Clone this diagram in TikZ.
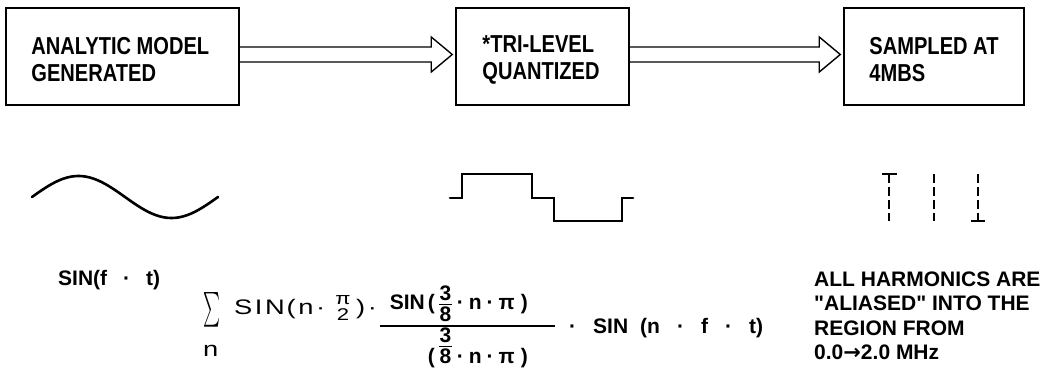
\documentclass[tikz,border=0pt]{standalone}
\usepackage{fontspec}
\setmainfont{Liberation Sans}
\newfontfamily\platefont{Liberation Sans}[FakeStretch=0.82]
\newfontfamily\thinfont{Liberation Sans}[FakeStretch=1.3,LetterSpace=12]
\newfontfamily\arrowfont{DejaVu Sans}
\usetikzlibrary{arrows,positioning,calc}

% 3 over 8, centred on the line / sitting on the line
\newcommand{\stackfrac}[2]{\ensuremath{\vcenter{\offinterlineskip
    \hbox to 0.62em{\hss#1\hss}\kern2.5pt\hrule height0.9pt\kern2.5pt
    \hbox to 0.62em{\hss#2\hss}}}}
\newcommand{\stackfracdown}[2]{\vbox{\offinterlineskip
    \hbox to 0.62em{\hss#1\hss}\kern2.5pt\hrule height0.9pt\kern2.5pt
    \hbox to 0.62em{\hss#2\hss}}}
\newcommand{\eqgap}{\hspace{5pt}}
\newcommand{\wide}{\hspace{17pt}}

\begin{document}
\begin{tikzpicture}[x=1pt,y=-1pt,node distance=2pt]
       \tikzstyle{blockbox}=[draw,line width=1.5pt,minimum height=97pt,inner sep=0pt]
       \tikzstyle{boxtext}=[anchor=west,align=left,inner sep=0pt,font=\platefont\bfseries\fontsize{24.5}{27}\selectfont]
       \tikzstyle{hollow}=[line width=1.4pt,line join=miter]
       \tikzstyle{wave}=[line width=2.6pt,line join=miter,line cap=round]
       \tikzstyle{pulse}=[line width=2pt,dash pattern=on 9pt off 4pt]
       \tikzstyle{pulsecap}=[line width=2.8pt]
       \tikzstyle{eqbold}=[inner sep=0pt,anchor=base west,font=\bfseries\fontsize{21}{25}\selectfont]
       \tikzstyle{eqthin}=[inner sep=0pt,anchor=base west,font=\thinfont\fontsize{21}{25}\selectfont]
       \tikzstyle{note}=[inner sep=0pt,anchor=north west,align=left,font=\bfseries\fontsize{21}{24.5}\selectfont]

       \useasboundingbox (0,0) rectangle (1050,383);

       % blocks
       \node[blockbox,minimum width=233pt] (model)  at (122.5,56.5) {};
       \node[blockbox,minimum width=173pt] (quant)  at (542.5,56.5) {};
       \node[blockbox,minimum width=180pt] (sample) at (934,56.5)   {};

       \node[boxtext] (modeltext)  at ($(model.west)+(26,3)$)  {ANALYTIC MODEL\\GENERATED};
       \node[boxtext] (quanttext)  at ($(quant.west)+(27,3)$)  {*TRI-LEVEL\\QUANTIZED};
       \node[boxtext] (sampletext) at ($(sample.west)+(26,3)$) {SAMPLED AT\\4MBS};

       % hollow arrows
       \foreach \src/\dst in {model/quant,quant/sample}
         \draw[hollow] ($(\src.east)+(0,-9.5)$) -- ($(\dst.west)+(-24,-9.5)$)
           -- ($(\dst.west)+(-24,-19.5)$) -- ($(\dst.west)+(-3,-2)$)
           -- ($(\dst.west)+(-24,15.5)$) -- ($(\dst.west)+(-24,5.5)$)
           -- ($(\src.east)+(0,5.5)$);

       % signals
       \draw[wave,domain=0:360,samples=73,smooth,variable=\t]
         plot ({32+\t/360*186},{197-21*sin(\t)});
       \draw[wave] (450,198) -| (462,174) -| (532,198) -| (554,221) -| (622,198) -- (633,198);
       \foreach \x in {889,934,978}
         \draw[pulse] (\x,174) -- (\x,221);
       \draw[pulsecap] (882,174) -- (897,174);
       \draw[pulsecap] (971,221) -- (985,221);

       % series
       \node[eqbold] (sinft) at (58,285.5) {SIN(f\hspace{16pt}·\hspace{16pt}t)};
       \node[inner sep=0pt] (sigma) at (212,309.5) {\resizebox{17pt}{26pt}{$\sum$}};
       \node[eqthin] (sumidx) at (203,356) {n};
       \node[eqthin] (sinhalf) at (234,314) {SIN\hspace{2pt}(n·};
       \node[inner sep=0pt,font=\thinfont\fontsize{17}{17}\selectfont] (pinum) at (343,300) {π};
       \node[inner sep=0pt,anchor=north,font=\thinfont\fontsize{17}{17}\selectfont] (piden) [below=4pt of pinum] {2};
       \node[eqthin] (halfclose) at (356,314) {)·};
       \coordinate (barl) at (380,326);
       \coordinate (barr) at (555,326);
       \draw[line width=1.4pt] (barl) -- (barr);
       \node[eqbold,anchor=south east] (numer) at ($(barr)+(-27,-4)$)
         {SIN\hspace{3pt}(\hspace{4pt}\stackfrac{3}{8}\eqgap·\eqgap n\eqgap·\eqgap π\hspace{6pt})};
       \node[eqbold,anchor=north east] (denom) at ($(barr)+(-27,2)$)
         {(\hspace{4pt}\stackfracdown{3}{8}\eqgap·\eqgap n\eqgap·\eqgap π\hspace{6pt})};
       \node[eqbold] (sinnft) at ($(barr)+(14,7.5)$)
         {·\wide SIN\hspace{12pt}(n\wide·\wide f\wide·\wide t)};

       % note
       \node[note] (aliasnote) at (814,271.5)
         {ALL HARMONICS ARE\\\textquotedbl ALIASED\textquotedbl\ INTO THE\\REGION FROM\\0.0{\arrowfont\bfseries →}2.0 MHz};
\end{tikzpicture}
\end{document}
